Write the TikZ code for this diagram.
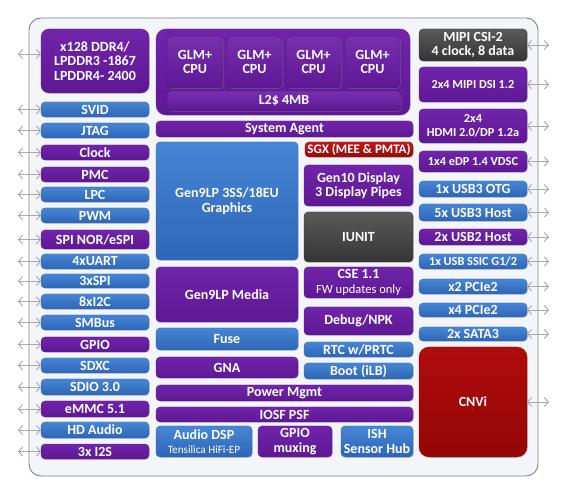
\documentclass[tikz,border=0pt]{standalone}
\usepackage{fontspec}
\setmainfont{Carlito}
\usetikzlibrary{arrows.meta,shadows}
\definecolor{bluetop}{HTML}{4686D4}
\definecolor{bluebot}{HTML}{2E66B6}
\definecolor{purtop}{HTML}{7024AA}
\definecolor{purbot}{HTML}{5E1894}
\definecolor{redtop}{HTML}{BE1818}
\definecolor{redbot}{HTML}{980A0A}
\definecolor{cnvtop}{HTML}{B00C0C}
\definecolor{cnvbot}{HTML}{950606}
\definecolor{graytop}{HTML}{5A5A5A}
\definecolor{graybot}{HTML}{353535}
\definecolor{framefill}{HTML}{F4F5F9}
\definecolor{framedraw}{HTML}{7C8294}
\definecolor{arrowgray}{HTML}{A6A8B0}
\tikzset{
  box/.style={rounded corners=4pt, inner sep=0pt, outer sep=0pt, text=white,
    font=\bfseries\fontsize{14}{14.5}\selectfont, align=center,
    drop shadow={shadow xshift=0.8pt, shadow yshift=-0.8pt, opacity=0.3}},
  bluebox/.style={box, top color=bluetop, bottom color=bluebot, draw=bluebot, line width=0.3pt},
  purbox/.style={box, top color=purtop, bottom color=purbot, draw=purbot, line width=0.3pt},
  redbox/.style={box, top color=redtop, bottom color=redbot, draw=redbot, line width=0.3pt},
  cnvbox/.style={box, top color=cnvtop, bottom color=cnvbot, draw=cnvbot, line width=0.3pt, rounded corners=10pt},
  graybox/.style={box, top color=graytop, bottom color=graybot, draw=graybot, line width=0.3pt},
  innerbox/.style={box, top color=purtop!95!white, bottom color=purbot, draw=purbot!80!black, line width=0.4pt,
    drop shadow={shadow xshift=0.6pt, shadow yshift=-0.6pt, opacity=0.4}},
  framebox/.style={rounded corners=12pt, fill=framefill, draw=framedraw, line width=0.9pt, inner sep=0pt, outer sep=0pt},
  smalltxt/.style={font=\bfseries\fontsize{12.3}{14}\selectfont},
  midtxt/.style={font=\bfseries\fontsize{13}{14}\selectfont},
  bi/.style={arrowgray, line width=0.9pt, {Straight Barb[length=4pt,width=9pt]}-{Straight Barb[length=4pt,width=9pt]}}
}
\newcommand{\bx}[7]{\node[#2, minimum width={(#5-#3)*1pt}, minimum height={(#6-#4)*1pt}] (#1) at ({(#3+#5)/2},{(#4+#6)/2}) {#7};}
\newcommand{\sub}[2]{{\mdseries\fontsize{#1}{13}\selectfont #2}}
\begin{document}
\begin{tikzpicture}[x=1pt,y=-1pt]
\useasboundingbox (0,0) rectangle (568,494);
\bx{frame}{framebox}{29}{18}{538}{476}{}
% left column
\bx{ddr}{purbox,rounded corners=8pt}{41}{29}{149}{93}{x128 DDR4/\\LPDDR3 -1867\\LPDDR4- 2400}
\bx{svid}{bluebox}{41}{102}{149}{117}{SVID}
\bx{jtag}{bluebox}{41}{123}{149}{138}{JTAG}
\bx{clock}{purbox}{41}{145}{149}{160}{Clock}
\bx{pmc}{purbox}{41}{167}{149}{182}{PMC}
\bx{lpc}{bluebox}{41}{187}{149}{202}{LPC}
\bx{pwm}{bluebox}{41}{208}{149}{223}{PWM}
\bx{spinor}{purbox}{41}{230}{149}{249}{SPI NOR/eSPI}
\bx{uart}{bluebox}{41}{254}{149}{269}{4xUART}
\bx{spi}{bluebox}{41}{274}{149}{288}{3xSPI}
\bx{i2c}{bluebox}{41}{294}{149}{309}{8xI2C}
\bx{smbus}{bluebox}{41}{315}{149}{330}{SMBus}
\bx{gpio}{purbox}{41}{337}{149}{352}{GPIO}
\bx{sdxc}{bluebox}{41}{358}{149}{373}{SDXC}
\bx{sdio}{bluebox}{41}{379}{149}{395}{SDIO 3.0}
\bx{emmc}{purbox}{41}{401}{149}{417}{eMMC 5.1}
\bx{hda}{bluebox}{41}{422}{149}{438}{HD Audio}
\bx{i2s}{purbox}{41}{444}{149}{459}{3x I2S}
% CPU complex
\bx{cpu}{purbox,rounded corners=10pt}{156}{29}{410}{115}{}
\bx{glma}{innerbox}{167}{36}{223}{88}{GLM+\\CPU}
\bx{glmb}{innerbox}{227}{36}{282}{88}{GLM+\\CPU}
\bx{glmc}{innerbox}{286}{36}{341}{88}{GLM+\\CPU}
\bx{glmd}{innerbox}{345}{36}{400}{88}{GLM+\\CPU}
\bx{ltwo}{innerbox}{167}{91}{401}{111}{L2\$ 4MB}
\bx{sa}{purbox}{156}{121}{413}{137}{System Agent}
% middle
\bx{gfx}{bluebox}{156}{142}{298}{260}{Gen9LP 3SS/18EU\\Graphics}
\bx{media}{purbox}{156}{267}{298}{322}{Gen9LP Media}
\bx{fuse}{bluebox}{156}{328}{298}{350}{Fuse}
\bx{gna}{purbox}{156}{357}{298}{378}{GNA}
\bx{sgx}{redbox,midtxt}{305}{142}{413}{157}{SGX (MEE \& PMTA)}
\bx{disp}{purbox}{304}{165}{413}{206}{Gen10 Display\\3 Display Pipes}
\bx{iunit}{graybox}{304}{212}{413}{262}{IUNIT}
\bx{cse}{purbox}{304}{267}{413}{298}{CSE 1.1\\\sub{12.5}{FW updates only}}
\bx{debug}{purbox}{304}{307}{413}{335}{Debug/NPK}
\bx{rtc}{bluebox}{304}{342}{413}{357}{RTC w/PRTC}
\bx{boot}{bluebox}{304}{363}{413}{379}{Boot (iLB)}
\bx{pm}{purbox}{156}{385}{413}{401}{Power Mgmt}
\bx{iosf}{purbox}{156}{407}{413}{422}{IOSF PSF}
\bx{adsp}{bluebox}{156}{426}{252}{457}{Audio DSP\\\sub{11.2}{Tensilica HiFi-EP}}
\bx{gpiom}{purbox}{258}{426}{332}{457}{GPIO\\muxing}
\bx{ish}{bluebox}{341}{426}{413}{457}{ISH\\Sensor Hub}
% right column
\bx{csi}{graybox}{419}{29}{527}{61}{MIPI CSI-2\\4 clock, 8 data}
\bx{dsi}{purbox,smalltxt}{419}{67}{527}{102}{2x4 MIPI DSI 1.2}
\bx{hdmi}{purbox,smalltxt}{419}{109}{527}{143}{2x4\\HDMI 2.0/DP 1.2a}
\bx{edp}{purbox,smalltxt}{419}{151}{527}{172}{1x4 eDP 1.4 VDSC}
\bx{otg}{bluebox}{419}{181}{527}{197}{1x USB3 OTG}
\bx{usbh}{bluebox}{419}{204}{527}{221}{5x USB3 Host}
\bx{usbt}{purbox}{419}{229}{527}{245}{2x USB2 Host}
\bx{ssic}{bluebox,smalltxt}{419}{254}{527}{269}{1x USB SSIC G1/2}
\bx{pcieb}{bluebox}{419}{279}{527}{294}{x2 PCIe2}
\bx{pcied}{bluebox}{419}{303}{527}{317}{x4 PCIe2}
\bx{sata}{bluebox}{419}{327}{527}{341}{2x SATA3}
\bx{cnvi}{cnvbox}{419}{347}{527}{457}{CNVi}
% connectors
\coordinate (ddr-ext) at ([xshift=-23pt,yshift=7pt]ddr.west);
\coordinate (ddr-in) at ([yshift=7pt]ddr.west);
\draw[bi] (ddr-ext) -- (ddr-in);
\foreach \n in {svid,jtag,clock,pmc,lpc,pwm,spinor,uart,spi,i2c,smbus,gpio,sdxc,sdio,emmc,hda,i2s}{
  \coordinate (\n-ext) at ([xshift=-23pt]\n.west);
  \draw[bi] (\n-ext) -- (\n.west);
}
\foreach \n in {csi,dsi,hdmi,edp,otg,usbh,usbt,ssic,pcieb,pcied,sata,cnvi}{
  \coordinate (\n-ext) at ([xshift=22pt]\n.east);
  \draw[bi] (\n.east) -- (\n-ext);
}
\end{tikzpicture}
\end{document}
